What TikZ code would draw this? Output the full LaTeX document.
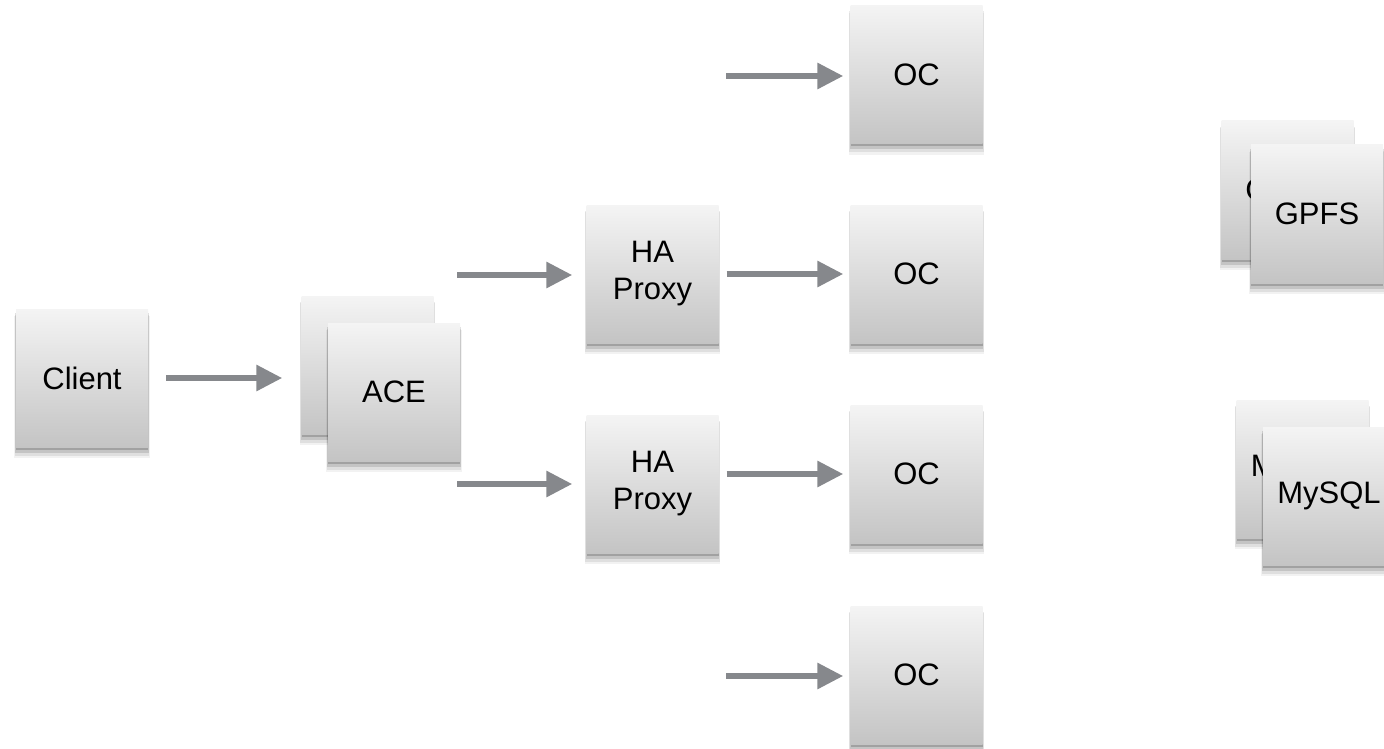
\documentclass[tikz,border=0pt]{standalone}
\usepackage{fontspec}
\setmainfont{Liberation Sans}
\usetikzlibrary{arrows.meta,shadows}
\definecolor{arrgray}{HTML}{86888C}
\definecolor{boxtop}{HTML}{F4F4F4}
\definecolor{boxbot}{HTML}{C4C4C4}
\tikzset{
  box/.style={rectangle, minimum width=132pt, minimum height=138pt, inner sep=0pt,
    top color=boxtop, bottom color=boxbot, draw=none, align=center,
    font=\fontsize{31}{37}\selectfont, text=black,
    general shadow={shadow xshift=0pt, shadow yshift=-9pt, shadow scale=1.03, opacity=0.05, fill=black},
    general shadow={shadow xshift=0pt, shadow yshift=-7pt, shadow scale=1.02, opacity=0.08, fill=black},
    general shadow={shadow xshift=0pt, shadow yshift=-5pt, shadow scale=1.01, opacity=0.12, fill=black},
    general shadow={shadow xshift=0pt, shadow yshift=-3pt, opacity=0.18, fill=black}},
  arr/.style={draw=arrgray, line width=6pt, -{Triangle[length=26pt,width=25pt]}, arrgray}
}
\begin{document}
\begin{tikzpicture}[x=1pt,y=-1pt]
\useasboundingbox (0,0) rectangle (1384,749);
\clip (0,0) rectangle (1384,749);
% nodes
\node[box] (client) at (82,378) {Client};
\node[box] (aceb) at (367.5,365) {ACE};
\node[box] (ace) at (394,392) {ACE};
\node[box] (ha1) at (652.5,274) {HA\\Proxy};
\node[box] (ha2) at (652.5,484) {HA\\Proxy};
\node[box] (oc1) at (916.5,74.5) {OC};
\node[box] (oc2) at (916.5,274) {OC};
\node[box] (oc3) at (916.5,474) {OC};
\node[box] (oc4) at (916.5,675) {OC};
\node[box] (gpfsb) at (1287.5,190) {GPFS};
\node[box] (gpfs) at (1317,214) {GPFS};
\node[box] (mysqlb) at (1302.5,469) {MySQL};
\node[box] (mysql) at (1329,496) {MySQL};
% free ends
\coordinate (a1) at (457,275);
\coordinate (a2) at (457,484);
\coordinate (c1) at (726,76);
\coordinate (c4) at (726,676);
% connectors
\draw[arr, shorten <=18pt, shorten >=19pt] (client.east) -- (client.east -| aceb.west);
\draw[arr, shorten >=14pt] (a1) -- (a1 -| ha1.west);
\draw[arr, shorten >=14pt] (a2) -- (a2 -| ha2.west);
\draw[arr, shorten <=8pt, shorten >=7pt] (ha1.east) -- (ha1.east -| oc2.west);
\draw[arr, shorten <=8pt, shorten >=7pt] (ha2.east |- oc3.west) -- (oc3.west);
\draw[arr, shorten >=7pt] (c1) -- (c1 -| oc1.west);
\draw[arr, shorten >=7pt] (c4) -- (c4 -| oc4.west);
\end{tikzpicture}
\end{document}
